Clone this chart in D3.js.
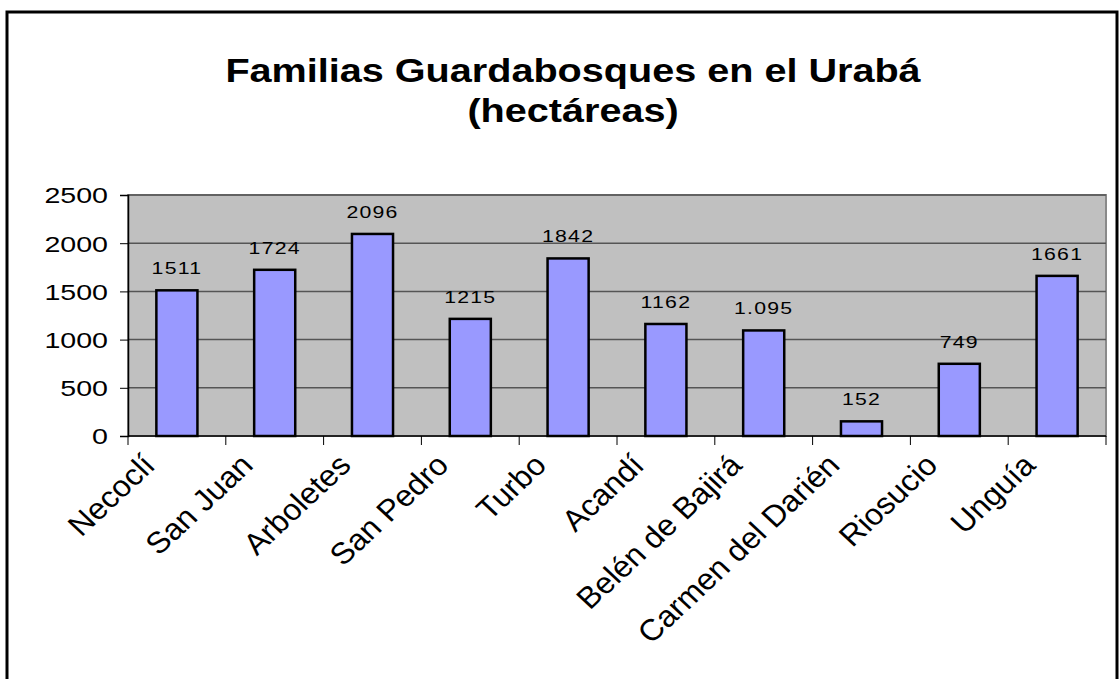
<!DOCTYPE html>
<html>
<head>
<meta charset="utf-8">
<script src="https://cdn.jsdelivr.net/npm/d3@7"></script>
<style>
  body { margin: 0; background: #fff; }
  text { font-family: Arial, "Liberation Sans", sans-serif; fill: #000; }
</style>
</head>
<body>
<div id="chart"></div>
<script>
// data
let municipios = ['Necoclí', 'San Juan', 'Arboletes', 'San Pedro', 'Turbo', 'Acandí',
  'Belén de Bajirá', 'Carmen del Darién', 'Riosucio', 'Unguía']
let hectareas = [1511, 1724, 2096, 1215, 1842, 1162, 1095, 152, 749, 1661]
let etiquetas = ['1511', '1724', '2096', '1215', '1842', '1162', '1.095', '152', '749', '1661']
let yTicks = [0, 500, 1000, 1500, 2000, 2500]
let titulo = ['Familias Guardabosques en el Urabá', '(hectáreas)']

let width = 1120
let height = 679
let plot = { left: 128, right: 1106, top: 195, bottom: 436 }

let svg = d3
  .select('#chart')
  .append('svg')
  .attr('width', width)
  .attr('height', height)

// outer frame
svg.append('rect')
  .attr('x', 7)
  .attr('y', 12)
  .attr('width', 1110)
  .attr('height', 700)
  .attr('fill', '#fff')
  .attr('stroke', '#000')
  .attr('stroke-width', 3)

// title
svg.selectAll('.title')
  .data(titulo)
  .enter()
  .append('text')
  .attr('class', 'title')
  .attr('text-anchor', 'middle')
  .attr('font-weight', 'bold')
  .attr('font-size', '33px')
  .attr('transform', (d, i) => 'translate(573,' + (82 + i * 40) + ') scale(1.2,1)')
  .text(d => d)

let x = d3.scaleBand()
  .domain(municipios)
  .range([plot.left, plot.right])
  .padding(0)

let y = d3.scaleLinear()
  .domain([0, 2500])
  .range([plot.bottom, plot.top])

// plot area
svg.append('rect')
  .attr('x', plot.left)
  .attr('y', plot.top)
  .attr('width', plot.right - plot.left)
  .attr('height', plot.bottom - plot.top)
  .attr('fill', '#c0c0c0')
  .attr('stroke', '#8a8a8a')
  .attr('stroke-width', 2)

// gridlines
svg.selectAll('.grid')
  .data(yTicks.slice(1))
  .enter()
  .append('line')
  .attr('class', 'grid')
  .attr('x1', plot.left)
  .attr('x2', plot.right)
  .attr('y1', d => y(d))
  .attr('y2', d => y(d))
  .attr('stroke', '#555')
  .attr('stroke-width', 1.5)

// bars
let barW = x.bandwidth() * 0.42
svg.selectAll('.bar')
  .data(hectareas)
  .enter()
  .append('rect')
  .attr('class', 'bar')
  .attr('x', (d, i) => x(municipios[i]) + x.bandwidth() / 2 - barW / 2)
  .attr('y', d => y(d))
  .attr('width', barW)
  .attr('height', d => y(0) - y(d))
  .attr('fill', '#9999ff')
  .attr('stroke', '#000')
  .attr('stroke-width', 2.5)

// value labels
svg.selectAll('.valor')
  .data(hectareas)
  .enter()
  .append('text')
  .attr('class', 'valor')
  .attr('text-anchor', 'middle')
  .attr('font-size', '17px')
  .attr('letter-spacing', '1px')
  .attr('transform', (d, i) => 'translate(' + (x(municipios[i]) + x.bandwidth() / 2) + ',' + (y(d) - 16) + ') scale(1.25,1)')
  .text((d, i) => etiquetas[i])

// y axis
let yAxis = svg.append('g')
  .attr('transform', 'translate(' + plot.left + ',0)')
  .call(d3.axisLeft(y).tickValues(yTicks).tickSize(8).tickFormat(d3.format('d')))
yAxis.select('.domain').attr('stroke', '#000').attr('stroke-width', 1.5)
yAxis.selectAll('.tick line').attr('stroke', '#000')
yAxis.selectAll('.tick text')
  .attr('font-size', '22px')
  .attr('font-family', 'Arial, "Liberation Sans", sans-serif')
  .attr('x', 0)
  .attr('dy', '0.36em')
  .attr('transform', 'translate(-20,0) scale(1.3,1)')

// x axis: ticks sit on the category boundaries
let xAxis = svg.append('g')
  .attr('transform', 'translate(0,' + plot.bottom + ')')
xAxis.append('line')
  .attr('x1', plot.left)
  .attr('x2', plot.right)
  .attr('stroke', '#000')
  .attr('stroke-width', 1.5)
xAxis.selectAll('.xtick')
  .data(municipios.concat(['end']))
  .enter()
  .append('line')
  .attr('class', 'xtick')
  .attr('x1', (d, i) => i < municipios.length ? x(d) : plot.right)
  .attr('x2', (d, i) => i < municipios.length ? x(d) : plot.right)
  .attr('y1', 0)
  .attr('y2', 9)
  .attr('stroke', '#000')

svg.selectAll('.cat')
  .data(municipios)
  .enter()
  .append('text')
  .attr('class', 'cat')
  .attr('text-anchor', 'end')
  .attr('font-size', '30px')
  .attr('transform', d => 'translate(' + (x(d) + x.bandwidth() / 2 - 20) + ',' + 467 + ') scale(1.07,1) rotate(-45)')
  .text(d => d)
</script>
</body>
</html>
